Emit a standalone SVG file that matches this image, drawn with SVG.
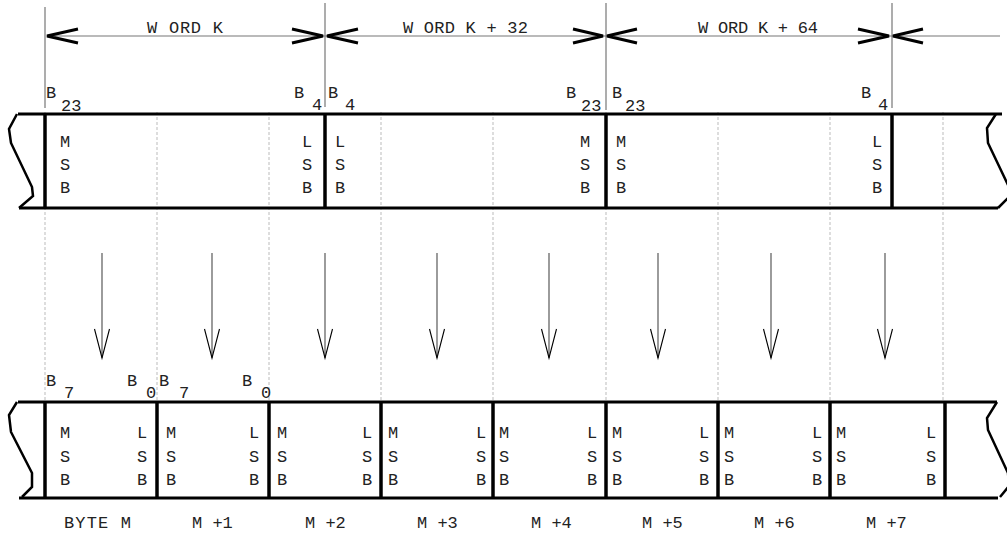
<svg xmlns="http://www.w3.org/2000/svg" width="1007" height="539" viewBox="0 0 1007 539">
<defs>
<style>
text{font-family:"Liberation Mono","Courier New",monospace;font-size:17px;fill:#222}
.thick{stroke:#000;stroke-width:3.5;fill:none}
.edge{stroke:#000;stroke-width:3;fill:none}
.sq{stroke:#000;stroke-width:2.5;fill:none;stroke-linejoin:miter}
.grid{stroke:#bbb;stroke-width:1;stroke-dasharray:3 2;fill:none}
.ext{stroke:#777;stroke-width:1.2;fill:none}
.chev{stroke:#000;stroke-width:3;fill:none;stroke-linejoin:miter}
.shaft{stroke:#666;stroke-width:1.3;fill:none}
</style>
<marker id="vhead" viewBox="-30 -9 32 18" markerWidth="32" markerHeight="18" refX="0" refY="0" markerUnits="userSpaceOnUse" orient="auto" overflow="visible">
<path d="M-29,-7.5 L0,0 L-29,7.5" stroke="#000" stroke-width="1.1" fill="none"/>
</marker>
</defs>
<rect width="1007" height="539" fill="#fff"/>

<g id="grid">
<path class="grid" d="M45,112V402M157,112V402M269,112V402M381,112V402M493,112V402M606,112V402M718,112V402M830,112V402M943,112V402"/>
</g>

<g id="dimensions">
<path class="ext" d="M45,7V108M325,3V107M606,3V110M892,3V108M47,36H1000"/>
<path class="chev" d="M78,29L47,36L78,43"/>
<path class="chev" d="M292,29L323,36L292,43"/>
<path class="chev" d="M358,29L327,36L358,43"/>
<path class="chev" d="M573,29L603,36L573,43"/>
<path class="chev" d="M637,29L607,36L637,43"/>
<path class="chev" d="M858,29L889,36L858,43"/>
<path class="chev" d="M923,29L893,36L923,43"/>
<text x="147" y="33" textLength="76" lengthAdjust="spacing">W ORD K</text>
<text x="403" y="33" textLength="125" lengthAdjust="spacing">W ORD K + 32</text>
<text x="698" y="33" textLength="120" lengthAdjust="spacing">W ORD K + 64</text>
</g>

<g id="word-row">
<path class="edge" d="M18,114H1002M19,208H998"/>
<path class="sq" d="M17,114L9,129L11,143L32,187L33,196L19,208"/>
<path class="sq" d="M996,114L987,128L988,143L1009,187L1010,196L998,208"/>
</g>

<g id="word-k">
<path class="thick" d="M45,114V208"/>
<text x="46" y="98">B</text><text x="61" y="111">23</text>
<text x="294" y="98">B</text><text x="312" y="110">4</text>
<text x="60" y="147">M</text><text x="60" y="170">S</text><text x="60" y="193">B</text>
<text x="302" y="147">L</text><text x="302" y="170">S</text><text x="302" y="193">B</text>
</g>

<g id="word-k32">
<path class="thick" d="M325,114V208"/>
<text x="328" y="98">B</text><text x="345" y="110">4</text>
<text x="566" y="98">B</text><text x="581" y="111">23</text>
<text x="335" y="147">L</text><text x="335" y="170">S</text><text x="335" y="193">B</text>
<text x="580" y="147">M</text><text x="580" y="170">S</text><text x="580" y="193">B</text>
</g>

<g id="word-k64">
<path class="thick" d="M606,114V208"/>
<path class="thick" d="M892,114V208"/>
<text x="612" y="98">B</text><text x="625" y="111">23</text>
<text x="861" y="98">B</text><text x="878" y="110">4</text>
<text x="616" y="147">M</text><text x="616" y="170">S</text><text x="616" y="193">B</text>
<text x="872" y="147">L</text><text x="872" y="170">S</text><text x="872" y="193">B</text>
</g>

<g id="connectors">
<path class="shaft" marker-end="url(#vhead)" d="M102,253V358"/>
<path class="shaft" marker-end="url(#vhead)" d="M212,253V358"/>
<path class="shaft" marker-end="url(#vhead)" d="M325,253V358"/>
<path class="shaft" marker-end="url(#vhead)" d="M437,253V358"/>
<path class="shaft" marker-end="url(#vhead)" d="M549,253V358"/>
<path class="shaft" marker-end="url(#vhead)" d="M658,253V358"/>
<path class="shaft" marker-end="url(#vhead)" d="M771,253V358"/>
<path class="shaft" marker-end="url(#vhead)" d="M885,253V358"/>
</g>

<g id="byte-row">
<path class="edge" d="M18,402H997M19,498H998"/>
<path class="sq" d="M17,402L9,415L11,432L32,473L32,487L22,497"/>
<path class="sq" d="M997,402L987,418L988,430L1008,473L1009,486L1000,497"/>
<path class="thick" d="M945,402V498"/>
</g>

<g id="byte-m">
<path class="thick" d="M45,402V498"/>
<text x="46" y="386">B</text><text x="64" y="398">7</text>
<text x="127" y="386">B</text><text x="146" y="398">0</text>
<text x="60" y="438">M</text><text x="60" y="462">S</text><text x="60" y="485">B</text>
<text x="137" y="438">L</text><text x="137" y="462">S</text><text x="137" y="485">B</text>
<text x="64" y="528" textLength="67" lengthAdjust="spacing">BYTE M</text>
</g>

<g id="byte-m1">
<path class="thick" d="M157,402V498"/>
<text x="159" y="386">B</text><text x="179" y="398">7</text>
<text x="242" y="386">B</text><text x="261" y="398">0</text>
<text x="166" y="438">M</text><text x="166" y="462">S</text><text x="166" y="485">B</text>
<text x="249" y="438">L</text><text x="249" y="462">S</text><text x="249" y="485">B</text>
<text x="192" y="528">M +1</text>
</g>

<g id="byte-m2">
<path class="thick" d="M269,402V498"/>
<text x="277" y="438">M</text><text x="277" y="462">S</text><text x="277" y="485">B</text>
<text x="362" y="438">L</text><text x="362" y="462">S</text><text x="362" y="485">B</text>
<text x="305" y="528">M +2</text>
</g>

<g id="byte-m3">
<path class="thick" d="M381,402V498"/>
<text x="388" y="438">M</text><text x="388" y="462">S</text><text x="388" y="485">B</text>
<text x="476" y="438">L</text><text x="476" y="462">S</text><text x="476" y="485">B</text>
<text x="417" y="528">M +3</text>
</g>

<g id="byte-m4">
<path class="thick" d="M493,402V498"/>
<text x="499" y="438">M</text><text x="499" y="462">S</text><text x="499" y="485">B</text>
<text x="587" y="438">L</text><text x="587" y="462">S</text><text x="587" y="485">B</text>
<text x="531" y="528">M +4</text>
</g>

<g id="byte-m5">
<path class="thick" d="M606,402V498"/>
<text x="612" y="438">M</text><text x="612" y="462">S</text><text x="612" y="485">B</text>
<text x="699" y="438">L</text><text x="699" y="462">S</text><text x="699" y="485">B</text>
<text x="642" y="528">M +5</text>
</g>

<g id="byte-m6">
<path class="thick" d="M718,402V498"/>
<text x="724" y="438">M</text><text x="724" y="462">S</text><text x="724" y="485">B</text>
<text x="812" y="438">L</text><text x="812" y="462">S</text><text x="812" y="485">B</text>
<text x="754" y="528">M +6</text>
</g>

<g id="byte-m7">
<path class="thick" d="M830,402V498"/>
<text x="836" y="438">M</text><text x="836" y="462">S</text><text x="836" y="485">B</text>
<text x="926" y="438">L</text><text x="926" y="462">S</text><text x="926" y="485">B</text>
<text x="866" y="528">M +7</text>
</g>
</svg>
